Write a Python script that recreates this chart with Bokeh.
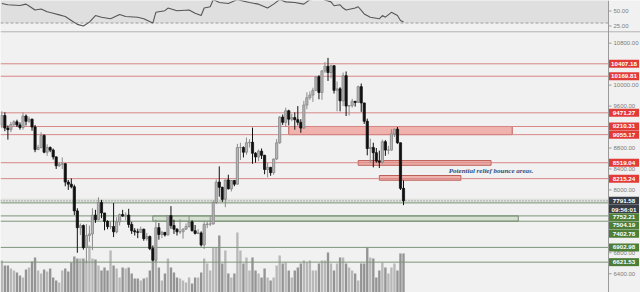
import numpy as np
from bokeh.plotting import figure
from bokeh.models import Range1d, BoxAnnotation
from bokeh.core.properties import value
from bokeh.embed import file_html
from bokeh.resources import INLINE

# ---------------- daily candles (28 Oct 2019 -> 9 Mar 2020) ----------------
opens = [9240, 9420, 9180, 9150, 9250, 9300, 9240, 9190, 9410, 9310,
         9350, 9200, 8770, 8810, 9040, 8720, 8810, 8760, 8630, 8460,
         8490, 8500, 8150, 8110, 8060, 7600, 7280, 7320, 6900, 7130,
         7160, 7520, 7430, 7760, 7560, 7400, 7300, 7300, 7200, 7390,
         7530, 7500, 7520, 7340, 7220, 7200, 7190, 7250, 7070, 7110,
         6880, 6660, 7280, 7150, 7190, 7140, 7510, 7320, 7250, 7200,
         7200, 7250, 7300, 7390, 7220, 7170, 7180, 6950, 7340, 7350,
         7350, 7760, 8150, 8050, 7820, 8190, 8020, 8180, 8110, 8810,
         8810, 8720, 8900, 8910, 8700, 8630, 8740, 8660, 8390, 8430,
         8330, 8590, 8900, 9390, 9290, 9510, 9350, 9380, 9340, 9290,
         9180, 9620, 9760, 9810, 9900, 10160, 9860, 10270, 10360, 10240,
         10370, 9900, 9930, 9700, 10180, 9600, 9610, 9690, 9670, 9970,
         9660, 9310, 8790, 8810, 8710, 8550, 8530, 8920, 8760, 8760,
         9070, 9160, 8900, 8030]
highs = [9500, 9480, 9230, 9300, 9330, 9340, 9290, 9480, 9440, 9400,
         9360, 9240, 8860, 9100, 9060, 8870, 8830, 8790, 8640, 8530,
         8620, 8510, 8190, 8220, 8100, 7650, 7360, 7340, 7350, 7320,
         7650, 7620, 7860, 7810, 7560, 7420, 7400, 7750, 7480, 7550,
         7620, 7570, 7640, 7390, 7270, 7260, 7300, 7260, 7180, 7130,
         6940, 7430, 7370, 7220, 7190, 7520, 7690, 7430, 7270, 7440,
         7270, 7360, 7520, 7420, 7330, 7250, 7210, 7400, 7390, 7490,
         7800, 8200, 8450, 8060, 8190, 8290, 8190, 8190, 8880, 8900,
         8830, 9000, 8970, 9190, 8720, 8770, 8790, 8670, 8520, 8440,
         8600, 8970, 9410, 9440, 9570, 9530, 9450, 9480, 9600, 9350,
         9700, 9860, 9880, 9950, 10160, 10190, 10290, 10440, 10520, 10390,
         10380, 10070, 9960, 10240, 10260, 9620, 9740, 9700, 9990, 10030,
         9660, 9360, 8980, 8900, 8800, 8750, 8960, 8950, 8840, 9160,
         9170, 9200, 8900, 8180]
lows = [9180, 9120, 8960, 9100, 9210, 9200, 9150, 9150, 9230, 9280,
        9130, 8720, 8760, 8790, 8700, 8650, 8720, 8580, 8400, 8440,
        8400, 8070, 8000, 8030, 7520, 6800, 7140, 6860, 6600, 7010,
        6850, 7370, 7420, 7460, 7230, 7250, 7250, 7100, 7170, 7320,
        7490, 7420, 7280, 7160, 7130, 7080, 7180, 7030, 7030, 6850,
        6640, 6620, 7050, 7080, 7110, 7130, 7260, 7160, 7130, 7160,
        7070, 7240, 7280, 7210, 7150, 7170, 6920, 6870, 7270, 7310,
        7340, 7730, 7870, 7770, 7670, 8010, 7970, 8070, 8100, 8570,
        8620, 8670, 8810, 8500, 8520, 8550, 8590, 8300, 8240, 8270,
        8290, 8570, 8880, 9240, 9200, 9230, 9310, 9150, 9230, 9090,
        9160, 9540, 9720, 9680, 9890, 9730, 9720, 10230, 10080, 10130,
        9840, 9500, 9500, 9600, 9410, 9420, 9570, 9590, 9670, 9490,
        9260, 8660, 8520, 8430, 8520, 8420, 8500, 8650, 8680, 8750,
        9010, 8880, 8000, 7710]
closes = [9420, 9180, 9150, 9250, 9300, 9240, 9190, 9410, 9310, 9350,
          9200, 8770, 8810, 9040, 8720, 8810, 8760, 8630, 8460, 8490,
          8500, 8150, 8110, 8060, 7600, 7280, 7320, 6900, 7130, 7160,
          7520, 7430, 7760, 7560, 7400, 7300, 7300, 7200, 7390, 7530,
          7500, 7520, 7340, 7220, 7200, 7190, 7250, 7070, 7110, 6880,
          6660, 7280, 7150, 7190, 7140, 7510, 7320, 7250, 7200, 7200,
          7250, 7300, 7390, 7220, 7170, 7180, 6950, 7340, 7350, 7350,
          7760, 8150, 8050, 7820, 8190, 8020, 8180, 8110, 8810, 8810,
          8720, 8900, 8910, 8700, 8630, 8740, 8660, 8390, 8430, 8330,
          8590, 8900, 9390, 9290, 9510, 9350, 9380, 9340, 9290, 9180,
          9620, 9760, 9810, 9900, 10160, 9860, 10270, 10360, 10240, 10370,
          9900, 9930, 9700, 10180, 9600, 9610, 9690, 9670, 9970, 9660,
          9310, 8790, 8810, 8710, 8550, 8530, 8920, 8760, 8760, 9070,
          9160, 8900, 8030, 7791.58]
volumes = [32, 27, 27, 24, 22, 20, 17, 15, 23, 25, 31, 35, 22, 19, 23, 21, 24, 15, 12, 10,
           22, 24, 21, 30, 36,
           34, 34, 34, 32, 47, 34, 33, 27, 22, 25, 22, 42, 27, 24, 15, 25, 24, 25, 19, 14,
           14, 12, 14,
           15, 22, 32, 42, 25, 12, 19, 34, 25, 20, 15, 14, 12, 10, 15,
           9, 15, 15, 20, 34, 29, 22, 45, 45, 57, 29, 42, 19, 15, 19, 60,
           42, 29, 35, 22, 35, 22, 19, 15, 24, 15, 12, 15, 27, 37, 29, 30, 22, 15, 22, 25, 29,
           32, 30, 32, 22, 22, 29, 32, 32, 40, 29, 22, 29, 35, 35, 29, 25,
           22, 19, 12, 29, 29, 45, 35, 34, 15, 22, 30, 25, 19, 25, 29, 22, 39, 39]

# ---------------- oscillator (RSI) ----------------
rsi_bar = [0, 2, 6, 8, 9, 11, 13, 15, 17, 19, 21, 23, 25, 27, 29, 31, 33, 36, 39, 41,
           45, 47, 50, 51, 54, 55, 58, 62, 64, 66, 67, 69, 70, 72, 75, 78, 82, 85, 88, 90,
           92, 94, 97, 100, 102, 106, 109, 110, 112, 113, 114, 117, 118, 120, 122, 125,
           126, 127, 129, 131, 132, 133]
rsi_val = [62.5, 60.3, 59.2, 61.4, 58.2, 51.6, 53.3, 48.9, 46.2, 43.5, 40.8, 34.3, 27.7,
           25.0, 31.5, 42.4, 39.7, 37.0, 44.0, 40.8, 39.7, 37.0, 29.9, 47.8, 50.5, 54.9,
           50.5, 51.6, 46.2, 42.4, 54.9, 57.1, 69, 64.1, 62.5, 69, 64.1, 61.4, 54.9, 61.4,
           69, 65.2, 64.1, 61.4, 69, 70, 65.2, 58.7, 60.3, 54.9, 51.6, 54.9, 57.1, 45.1,
           39.7, 37.0, 42.4, 39.7, 47.8, 42.4, 34.3, 31.5]
rsi_ticks = [50, 25]
rsi_low_band = 30
rsi_high_band = 70

# ---------------- drawn levels and zones ----------------
red_levels = [10407.18, 10169.81, 9471.27, 9210.31, 9055.17, 8519.04, 8215.24]
green_levels = [7752.21, 7504.19, 7402.78, 6902.98, 6621.53]
last_price = 7791.58
countdown = "09:56:01"

red_zone_top = [9210.31, 8560.0, 8275.0]
red_zone_bottom = [9055.17, 8470.0, 8185.0]
red_zone_from = [95, 118, 125]
red_zone_to = [169, 162, 152]

green_zone_top = [7504.19]
green_zone_bottom = [7402.78]
green_zone_from = [50]
green_zone_to = [171]

band_top = 7830.0
band_bottom = 7752.21

price_ticks = list(range(6400, 10801, 400))
note = "Potential relief bounce areas."

# ---------------- page geometry ----------------
W, H = 640, 292
SEP_PX = 31            # pixel row splitting oscillator pane and price pane
STEP = 3.02            # pixels per daily bar
LAST_PX = 403          # pixel column of the newest bar
AXIS_PX = 608          # pixel column of the price scale
n = len(closes)
first_px = LAST_PX - (n - 1) * STEP


def bx(px):
    return (px - first_px) / STEP


AX = bx(AXIS_PX)
xr = Range1d(bx(0), bx(W))

# price scale: 10800 sits 42.7 px from the top, 0.0524 px per unit
P_TOP = 10800 + 42.7 / 0.0524
P_BOT = P_TOP - H / 0.0524
px_per_price = 0.0524
# oscillator scale: 50 sits 10.5 px from the top, 0.6 px per unit
R_TOP = 50 + 10.5 / 0.6
R_BOT = R_TOP - H / 0.6
sep_price = P_TOP - SEP_PX / px_per_price
main_top_price = P_TOP - (SEP_PX + 0.6) / px_per_price

FONT = value("Liberation Sans")
BG = "#f1f1f1"
GRID_TXT = "#7d7d7d"
RED_LINE = "#d98686"
GREEN_LINE = "#7e957a"
RED_TAG = "#e23b36"
GREEN_TAG = "#4e7d38"
DARK_TAG = "#383c45"

idx = np.arange(n)
o = np.array(opens, float)
c = np.array(closes, float)
h = np.array(highs, float)
l = np.array(lows, float)
up = c >= o

p = figure(width=W, height=H, x_range=xr, y_range=Range1d(P_BOT, P_TOP),
           toolbar_location=None, output_backend="svg", min_border=0)
p.axis.visible = False
p.grid.visible = False
p.outline_line_color = None
p.background_fill_color = BG
p.border_fill_color = BG
p.extra_y_ranges = {"vol": Range1d(0, H), "rsi": Range1d(R_BOT, R_TOP)}

# ================= oscillator pane =================
p.add_layout(BoxAnnotation(bottom=rsi_low_band, top=rsi_high_band, right=AX,
                           y_range_name="rsi", fill_color="#dfdfdf", fill_alpha=1.0,
                           line_color=None, level="underlay"))
p.segment(x0=[xr.start], x1=[AX], y0=[rsi_low_band], y1=[rsi_low_band],
          y_range_name="rsi", line_color="#9c9c9c", line_width=1, line_dash="3 2")
p.line(rsi_bar, rsi_val, y_range_name="rsi", line_color="#565656", line_width=1.1)
nrt = len(rsi_ticks)
p.segment(x0=[AX] * nrt, x1=[AX + 3 / STEP] * nrt, y0=rsi_ticks, y1=rsi_ticks,
          y_range_name="rsi", line_color="#9a9a9a")
p.text(x=[AX + 5 / STEP] * nrt, y=rsi_ticks, y_range_name="rsi",
       text=[f"{t:.2f}" for t in rsi_ticks], text_font=FONT, text_font_size="6px",
       text_color=GRID_TXT, text_baseline="middle", text_align="left")

# pane separator
p.segment(x0=[xr.start, xr.start], x1=[xr.end, xr.end], y0=[sep_price, main_top_price],
          y1=[sep_price, main_top_price], line_color=["#b9b9b9", "#d4d4d4"], line_width=1)

# ================= price pane =================
# zones
p.quad(left=[xr.start], right=[AX], top=[band_top], bottom=[band_bottom],
       fill_color="#dde2dc", line_color=None)
p.quad(left=green_zone_from, right=green_zone_to, top=green_zone_top,
       bottom=green_zone_bottom, fill_color="#d6e0d2", line_color="#6f8a68", line_width=1)
p.quad(left=red_zone_from, right=red_zone_to, top=red_zone_top, bottom=red_zone_bottom,
       fill_color="#efb2ac", line_color="#bd5f59", line_width=1)

# volume
vol_col = ["#b4b4b4" if u else "#8e8e8e" for u in up]
p.vbar(x=idx, top=volumes, bottom=0, width=0.78, y_range_name="vol",
       fill_color=vol_col, line_color=None, fill_alpha=0.95)

# horizontal levels
nr = len(red_levels)
p.segment(x0=[xr.start] * nr, x1=[AX] * nr, y0=red_levels, y1=red_levels,
          line_color=RED_LINE, line_width=1)
ng = len(green_levels)
p.segment(x0=[xr.start] * ng, x1=[AX] * ng, y0=green_levels, y1=green_levels,
          line_color=GREEN_LINE, line_width=1)
p.segment(x0=[xr.start], x1=[AX], y0=[last_price], y1=[last_price],
          line_color="#5d5d5d", line_width=1, line_dash="1 2", line_alpha=0.7)

# candles
wick_col = ["#8c8c8c" if u else "#111111" for u in up]
body_fill = ["#b5b5b5" if u else "#111111" for u in up]
body_line = ["#858585" if u else "#111111" for u in up]
p.segment(x0=idx, x1=idx, y0=l, y1=h, line_color=wick_col, line_width=1)
p.vbar(x=idx, top=np.maximum(o, c), bottom=np.minimum(o, c), width=0.72,
       fill_color=body_fill, line_color=body_line, line_width=0.8)

# note
p.text(x=[n - 1 + 15], y=[(red_levels[5] + red_levels[6]) / 2], text=[note],
       text_font=value("Liberation Serif"), text_font_style="bold italic",
       text_font_size="7px", text_color="#2d4f80", text_baseline="middle",
       text_align="left")

# scale line across both panes
p.segment(x0=[AX], x1=[AX], y0=[P_BOT], y1=[P_TOP], line_color="#9a9a9a", line_width=1)

# price ticks
nt = len(price_ticks)
p.segment(x0=[AX] * nt, x1=[AX + 3 / STEP] * nt, y0=price_ticks, y1=price_ticks,
          line_color="#9a9a9a")
p.text(x=[AX + 5 / STEP] * nt, y=price_ticks, text=[f"{t:.2f}" for t in price_ticks],
       text_font=FONT, text_font_size="6px", text_color=GRID_TXT,
       text_baseline="middle", text_align="left")

# value tags on the scale, stacked so they do not overlap
tags = [(v, f"{v:.2f}", RED_TAG, 0) for v in red_levels]
tags += [(last_price, f"{last_price:.2f}", DARK_TAG, 0), (last_price, countdown, DARK_TAG, 1)]
tags += [(v, f"{v:.2f}", GREEN_TAG, 0) for v in green_levels]
tags.sort(key=lambda t: (-t[0], t[3]))
tag_h = 8.2 / px_per_price
ys, prev = [], None
for v, _, _, _ in tags:
    y = v if prev is None else min(v, prev - tag_h)
    ys.append(y)
    prev = y
cx = AX + 15.5 / STEP
p.rect(x=[cx] * len(tags), y=ys, width=30, height=8, width_units="screen",
       height_units="screen", fill_color=[t[2] for t in tags], line_color=None)
p.text(x=[cx] * len(tags), y=ys, text=[t[1] for t in tags], text_font=FONT,
       text_font_size="6.2px", text_font_style="bold", text_color="white",
       text_baseline="middle", text_align="center")

open("out.html", "w").write(file_html(p, INLINE))
